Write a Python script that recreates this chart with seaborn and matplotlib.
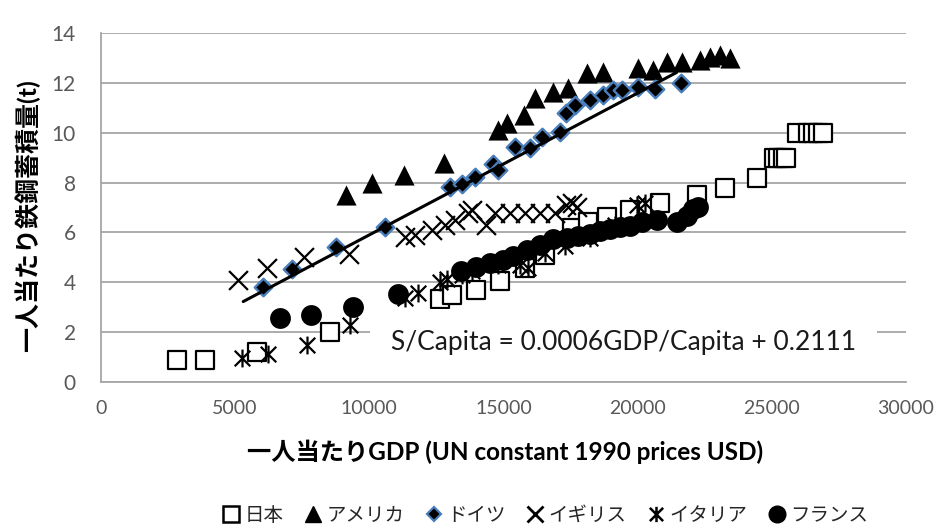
import matplotlib
matplotlib.use("Agg")
import matplotlib.pyplot as plt
from matplotlib.path import Path
from matplotlib.lines import Line2D
import pandas as pd
import seaborn as sns

# ---- data: GDP per capita (UN constant 1990 USD) vs. steel stock per capita (t) ----
japan_gdp = [2830, 3880, 5810, 8540, 12640, 13080, 13980, 14870, 15800, 16550,
             17550, 18150, 18860, 19720, 20830, 22210, 23260, 24450,
             25080, 25230, 25420, 25530, 25940, 26350, 26540, 26720, 26910]
japan_steel = [0.87, 0.87, 1.19, 2.00, 3.32, 3.48, 3.68, 4.05, 4.57, 5.09,
               6.18, 6.42, 6.62, 6.90, 7.18, 7.50, 7.78, 8.18,
               9.0, 9.0, 9.0, 9.0, 10.0, 10.0, 10.0, 10.0, 10.0]

usa_gdp = [9130, 10100, 11290, 12780, 14800, 15130, 15770, 16180, 16850, 17400,
           18110, 18710, 20010, 20570, 21100, 21650, 22330, 22700, 23070, 23440]
usa_steel = [7.52, 7.98, 8.31, 8.79, 10.12, 10.40, 10.72, 11.40, 11.64, 11.80,
             12.40, 12.44, 12.60, 12.52, 12.84, 12.84, 12.93, 13.05, 13.13, 13.00]

germany_gdp = [6040, 7120, 8760, 10590, 13010, 13460, 13940, 14610, 14800, 15430,
               15990, 16440, 17110, 17330, 17670, 18230, 18710, 19080, 19420,
               20010, 20650, 21620]
germany_steel = [3.80, 4.53, 5.43, 6.22, 7.82, 7.94, 8.22, 8.75, 8.51, 9.43,
                 9.39, 9.83, 10.03, 10.80, 11.12, 11.32, 11.52, 11.72, 11.72,
                 11.84, 11.76, 12.00]

uk_gdp = [5110, 6190, 7570, 9240, 11330, 11700, 12340, 12820, 13190, 13680,
          13830, 14330, 14690, 15240, 15800, 16360, 16920, 17330, 17550, 17740]
uk_steel = [4.08, 4.57, 5.01, 5.13, 5.81, 5.89, 6.09, 6.29, 6.49, 6.77,
            6.90, 6.29, 6.77, 6.77, 6.77, 6.77, 6.77, 7.10, 7.18, 7.02]

italy_gdp = [5260, 6220, 7680, 9280, 11330, 11820, 12640, 12900, 13460, 13830,
             14800, 15620, 15910, 16550, 17290, 18230, 19160, 19980, 20280]
italy_steel = [0.95, 1.11, 1.47, 2.28, 3.36, 3.56, 4.01, 4.13, 4.29, 4.45,
               4.69, 4.69, 4.57, 5.17, 5.45, 5.77, 6.30, 7.10, 7.18]

france_gdp = [6670, 7830, 9390, 11070, 13420, 13980, 14500, 14980, 15360, 15880,
              16360, 16850, 17370, 17780, 18230, 18600, 18970, 19340, 19720,
              20160, 20720, 21470, 21840, 22060, 22250]
france_steel = [2.55, 2.68, 2.99, 3.55, 4.45, 4.61, 4.77, 4.89, 5.05, 5.29,
                5.49, 5.73, 5.77, 5.85, 5.93, 6.05, 6.13, 6.22, 6.26,
                6.42, 6.50, 6.42, 6.66, 6.94, 7.02]

country_names = ["日本", "アメリカ", "ドイツ", "イギリス", "イタリア", "フランス"]

# linear trend: S/Capita = slope * GDP/Capita + intercept
trend_slope = 0.000569
trend_intercept = 0.2111
trend_gdp_range = [5300, 21450]
trend_label = "S/Capita = 0.0006GDP/Capita + 0.2111"

x_ticks = [0, 5000, 10000, 15000, 20000, 25000, 30000]
y_ticks = [0, 2, 4, 6, 8, 10, 12, 14]
x_title = "一人当たりGDP (UN constant 1990 prices USD)"
y_title = "一人当たり鉄鋼蓄積量(t)"

# ---- styling ----
sns.set_theme(style="white")
plt.rcParams["font.family"] = ["Lato", "Noto Sans CJK JP", "DejaVu Sans"]

grid_gray = "#a6a6a6"
tick_gray = "#595959"
german_edge = "#4a7ebb"

# asterisk marker: an "x" with a vertical bar through it
asterisk = Path([(-1, -1), (1, 1), (-1, 1), (1, -1), (0, -1.15), (0, 1.15)],
                [Path.MOVETO, Path.LINETO, Path.MOVETO, Path.LINETO,
                 Path.MOVETO, Path.LINETO])

fig = plt.figure(figsize=(9.41, 5.28), dpi=100)
ax = fig.add_axes([101 / 941, 1 - 382 / 528, 805 / 941, 349 / 528])

series = [
    (japan_gdp, japan_steel, dict(marker="s", s=170, color="white",
                                  edgecolor="black", linewidth=1.6)),
    (usa_gdp, usa_steel, dict(marker="^", s=210, color="black",
                              edgecolor="black", linewidth=0)),
    (germany_gdp, germany_steel, dict(marker="D", s=80, color="black",
                                      edgecolor=german_edge, linewidth=1.7)),
    (uk_gdp, uk_steel, dict(marker="x", s=185, color="black", linewidth=1.6)),
    (italy_gdp, italy_steel, dict(marker=asterisk, s=165, color="black",
                                  edgecolor="black", linewidth=1.6)),
    (france_gdp, france_steel, dict(marker="o", s=225, color="black",
                                    edgecolor="black", linewidth=0)),
]

for i, (gx, gy, kw) in enumerate(series):
    df = pd.DataFrame({"gdp": gx, "steel": gy})
    sns.scatterplot(data=df, x="gdp", y="steel", ax=ax, legend=False,
                    zorder=3 + i * 0.1, clip_on=False, **kw)

trend_df = pd.DataFrame({"gdp": trend_gdp_range})
trend_df["steel"] = trend_slope * trend_df["gdp"] + trend_intercept
sns.lineplot(data=trend_df, x="gdp", y="steel", ax=ax, color="black",
             linewidth=2.2, zorder=4)

ax.text(19470, 1.6, trend_label, ha="center", va="center", fontsize=19,
        color="#1a1a1a", zorder=5,
        bbox=dict(facecolor="white", edgecolor="none", pad=15))

ax.set_xlim(0, 30000)
ax.set_ylim(0, 14)
ax.set_xticks(x_ticks)
ax.set_yticks(y_ticks)
ax.set_xticklabels([str(v) for v in x_ticks])
ax.set_yticklabels([str(v) for v in y_ticks])
ax.tick_params(axis="both", length=0, colors=tick_gray)
ax.tick_params(axis="y", labelsize=15, pad=18)
ax.tick_params(axis="x", labelsize=14, pad=13)

ax.yaxis.grid(True, color=grid_gray, linewidth=1.3)
ax.xaxis.grid(False)
ax.set_axisbelow(True)
for side in ["top", "right"]:
    ax.spines[side].set_visible(False)
for side in ["left", "bottom"]:
    ax.spines[side].set_color(grid_gray)
    ax.spines[side].set_linewidth(1.3)
ax.set_xlabel("")
ax.set_ylabel("")

fig.text(505 / 941, 1 - 452 / 528, x_title, ha="center", va="center",
         fontsize=17.5, fontweight="bold", color="black")
fig.text(27 / 941, 1 - 216 / 528, y_title, ha="center", va="center",
         rotation=90, fontsize=18, fontweight="bold", color="black")

handles = [
    Line2D([], [], ls="", marker="s", markersize=11, markerfacecolor="white",
           markeredgecolor="black", markeredgewidth=1.8),
    Line2D([], [], ls="", marker="^", markersize=12, markerfacecolor="black",
           markeredgecolor="black"),
    Line2D([], [], ls="", marker="D", markersize=7, markerfacecolor="black",
           markeredgecolor=german_edge, markeredgewidth=1.6),
    Line2D([], [], ls="", marker="x", markersize=11, color="black",
           markeredgewidth=2.0),
    Line2D([], [], ls="", marker=asterisk, markersize=11, color="black",
           markeredgewidth=1.8),
    Line2D([], [], ls="", marker="o", markersize=12, markerfacecolor="black",
           markeredgecolor="black"),
]
fig.legend(handles, country_names, loc="center",
           bbox_to_anchor=(545 / 941, 1 - 515 / 528), ncol=6, frameon=False,
           fontsize=14, handlelength=1.0, handletextpad=0.2,
           columnspacing=1.0, labelcolor="#262626")

fig.savefig("out.png", dpi=100)
